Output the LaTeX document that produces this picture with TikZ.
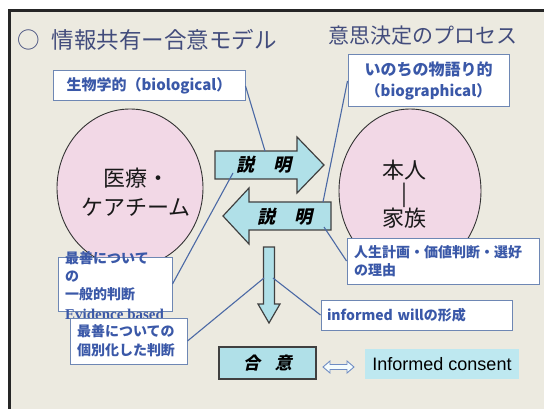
\documentclass[tikz,border=0pt]{standalone}
\usepackage{fontspec}
\setmainfont{Liberation Sans}
\newfontfamily\jp{Noto Sans CJK JP}
\newfontfamily\jpsl{Noto Sans CJK JP}[FakeSlant=0.22]
\newfontfamily\serifen{Liberation Serif}
\usetikzlibrary{shapes.geometric}
\definecolor{bgc}{RGB}{236,234,224}
\definecolor{arrowfill}{RGB}{176,224,232}
\definecolor{arrowdraw}{RGB}{64,64,64}
\definecolor{pinkc}{RGB}{242,216,230}
\definecolor{boxdraw}{RGB}{110,135,180}
\definecolor{bluet}{RGB}{58,88,168}
\definecolor{titlec}{RGB}{66,76,124}
\definecolor{connc}{RGB}{75,105,165}
\definecolor{consentc}{RGB}{190,232,240}
\definecolor{dblarrow}{RGB}{110,140,195}
\begin{document}
\begin{tikzpicture}[x=1pt,y=-1pt,
  titlet/.style={inner sep=0pt, text=titlec, font=\jp\fontsize{22.5}{26}\selectfont},
  ell/.style={ellipse, draw=black!80, line width=0.9pt, fill=pinkc, inner sep=0pt},
  bigt/.style={inner sep=0pt, text=black!90, align=center},
  bigarrow/.style={draw=arrowdraw, line width=1.2pt, fill=arrowfill, line join=miter},
  arrowt/.style={inner sep=0pt, text=black, font=\jpsl\bfseries\fontsize{18}{20}\selectfont},
  infobox/.style={draw=boxdraw, fill=white, line width=1pt, inner sep=0pt, text=bluet,
     font=\jp\bfseries\fontsize{14}{18}\selectfont},
  conn/.style={draw=connc, line width=1.1pt}
]
\useasboundingbox (0,0) rectangle (544,409);
\fill[white] (0,0) rectangle (544,409);
\fill[bgc] (9.5,10.5) rectangle (546,411);
\draw[line width=2.2pt, black!85] (9.5,411) -- (9.5,10.5) -- (546,10.5);

% titles
\node[titlet, anchor=west] (title) at (17,40) {○\hspace{12pt}情報共有ー合意モデル};
\node[titlet, anchor=west, font=\jp\fontsize{21}{24}\selectfont] (process) at (328,36) {意思決定のプロセス};

% ellipses
\node[ell, minimum width=146pt, minimum height=158pt] (med) at (130,188) {};
\node[bigt, font=\jp\fontsize{22}{29}\selectfont] (medt) at (136,192.5) {医療・\\ケアチーム};
\node[ell, minimum width=142pt, minimum height=164pt] (self) at (410,191) {};
\node[bigt, font=\jp\fontsize{22}{22.5}\selectfont] (selft) at (404,194.5) {本人\\|\\家族};

% big arrows
\draw[bigarrow] (215,151) -- (297,151) -- (297,137) -- (324,165) -- (297,193) -- (297,179) -- (215,179) -- cycle;
\coordinate (raTop) at (265,151);
\coordinate (raIn) at (233,173);
\node[arrowt] (ratext) at (264,165) {説\hspace{19pt}明};

\draw[bigarrow] (331,202) -- (249,202) -- (249,188) -- (223,216) -- (249,244) -- (249,230) -- (331,230) -- cycle;
\coordinate (laTop) at (323,202);
\coordinate (laIn) at (324,227);
\node[arrowt] (latext) at (285,217) {説\hspace{19pt}明};

\draw[bigarrow] (263.5,247) -- (274.5,247) -- (274.5,304) -- (280,304) -- (269,323) -- (258,304) -- (263.5,304) -- cycle;
\coordinate (daL) at (264,278);
\coordinate (daR) at (273,278);

% info boxes
\node[infobox, minimum width=192pt, minimum height=30pt, font=\jp\bfseries\fontsize{15}{18}\selectfont] (bio) at (149,86) {生物学的（biological）};
\node[infobox, minimum width=161pt, minimum height=52pt, align=center, font=\jp\bfseries\fontsize{16}{21}\selectfont] (biog) at (428.5,81) {いのちの物語り的\\{\fontsize{15}{21}\selectfont （biographical）}};
\node[infobox, minimum width=192pt, minimum height=46pt, text width=178pt, inner xsep=7pt, align=left] (life) at (443,261) {人生計画・価値判断・選好\\の理由};
\node[infobox, minimum width=191pt, minimum height=30pt, text width=179pt, inner xsep=6pt, align=left] (will) at (416.5,315) {informed willの形成};

\node[infobox, minimum width=114pt, minimum height=54pt] (box1) at (115,284) {};
\node[inner sep=0pt, anchor=north west, align=left, text=bluet, font=\jp\bfseries\fontsize{14}{18}\selectfont] (box1t) at (65,251.5) {最善について\\の\\一般的判断\\[1.5pt]{\serifen\bfseries\fontsize{15}{18}\selectfont Evidence based}};
\node[infobox, minimum width=117pt, minimum height=46pt, text width=103pt, inner xsep=7pt, align=left, font=\jp\bfseries\fontsize{14}{19}\selectfont] (box2) at (128.5,341) {最善についての\\個別化した判断};

% agreement row
\node[draw=arrowdraw, line width=1.3pt, fill=arrowfill, minimum width=97pt, minimum height=32pt, inner sep=0pt, font=\jpsl\bfseries\fontsize{17}{20}\selectfont] (agree) at (267.5,363) {合\hspace{15pt}意};
\node[fill=consentc, minimum width=154pt, minimum height=30pt, inner sep=0pt, font=\fontsize{18}{20}\selectfont, text=black] (consent) at (442,364) {Informed consent};
\coordinate (dbl) at (338.5,367);
\draw[draw=dblarrow, fill=white!85!consentc, line width=0.9pt, line join=miter]
  ([xshift=-15.5pt]dbl) -- ([xshift=-8.5pt,yshift=-6pt]dbl) -- ([xshift=-8.5pt,yshift=-2.5pt]dbl)
  -- ([xshift=8.5pt,yshift=-2.5pt]dbl) -- ([xshift=8.5pt,yshift=-6pt]dbl) -- ([xshift=15.5pt]dbl)
  -- ([xshift=8.5pt,yshift=6pt]dbl) -- ([xshift=8.5pt,yshift=2.5pt]dbl) -- ([xshift=-8.5pt,yshift=2.5pt]dbl)
  -- ([xshift=-8.5pt,yshift=6pt]dbl) -- cycle;

% connectors
\draw[conn] (bio.east) -- (raTop);
\draw[conn] (biog.west) -- (laTop);
\draw[conn] (life.west) -- (laIn);
\draw[conn] (box1.east) -- (raIn);
\draw[conn] (box2.east) -- (daL);
\draw[conn] (will.west) -- (daR);
\end{tikzpicture}
\end{document}
